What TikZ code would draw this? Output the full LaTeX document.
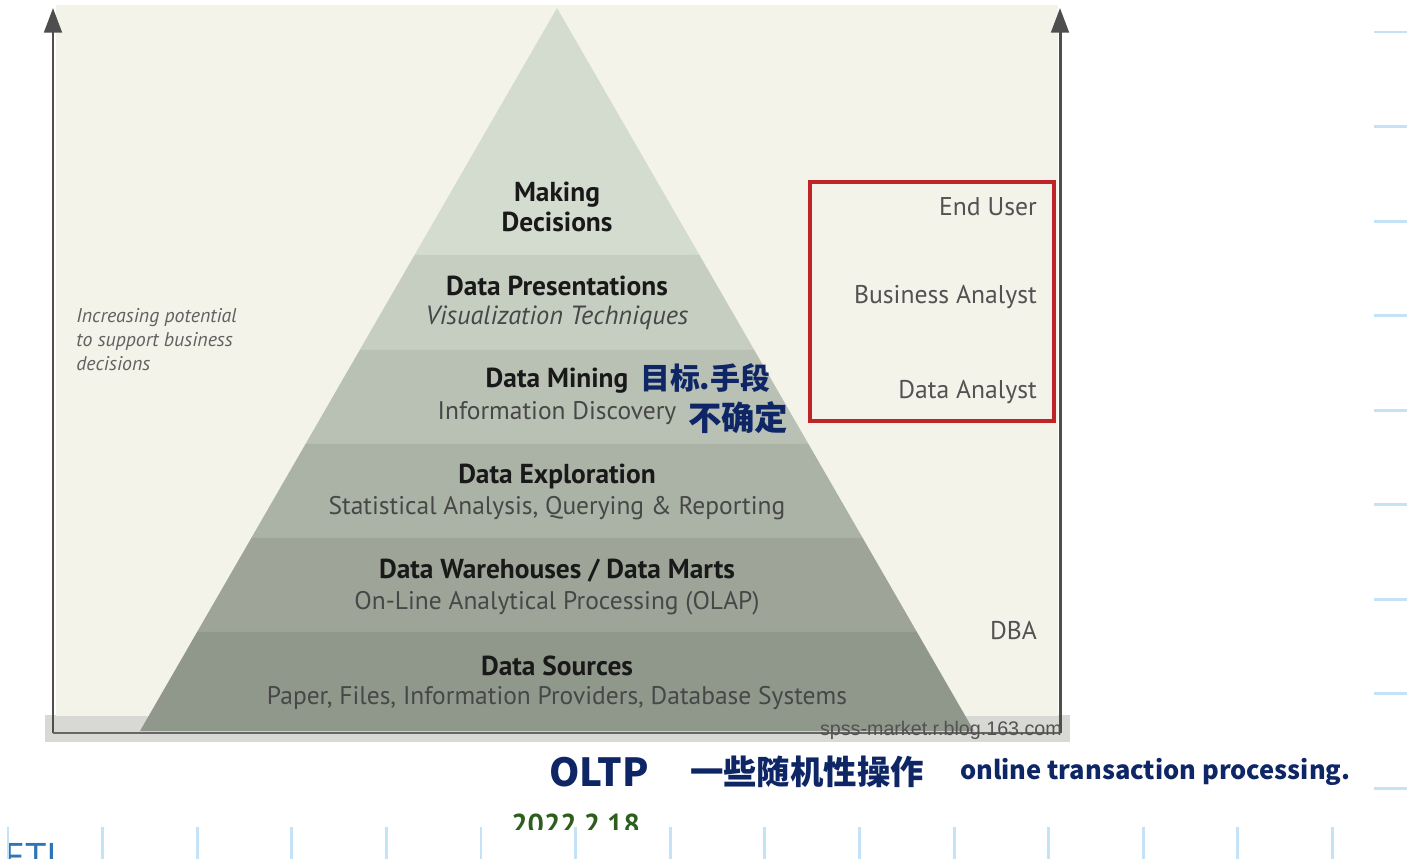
\documentclass[tikz,border=0pt]{standalone}
\usepackage{fontspec}
\setmainfont{PT Sans}
\newfontfamily\cjk{Noto Sans CJK SC}
\newfontfamily\webfont{Liberation Sans}
\usetikzlibrary{arrows.meta,positioning,calc}
\definecolor{paperbg}{RGB}{243,243,234}
\definecolor{bandgray}{RGB}{216,216,212}
\definecolor{axisgray}{RGB}{78,78,78}
\definecolor{pyrtop}{RGB}{212,219,207}
\definecolor{pyrbot}{RGB}{144,152,139}
\definecolor{boxred}{RGB}{192,36,40}
\definecolor{inkblue}{RGB}{14,38,102}
\definecolor{tickblue}{RGB}{197,227,246}
\definecolor{dategreen}{RGB}{46,94,30}
\definecolor{etlblue}{RGB}{46,117,182}

\begin{document}
\begin{tikzpicture}[x=0.02cm, y=-0.02cm,
    title/.style = {font=\fontsize{15.6}{17}\selectfont\bfseries, text=black!90, align=center},
    sub/.style   = {font=\fontsize{14.5}{17}\selectfont, text=black!72},
    role/.style  = {font=\fontsize{14.6}{17}\selectfont, text=black!68, anchor=east},
    ink/.style   = {font=\cjk\bfseries, text=inkblue, anchor=west},
    axis/.style  = {draw=axisgray, line width=1.7pt, -{Triangle[length=14pt,width=10pt]}},
    frame/.style = {draw=boxred, line width=2.3pt},
    tick/.style  = {draw=tickblue, line width=1.7pt}
  ]
    \clip (0,0) rectangle (1407,859);
    \fill[white] (0,0) rectangle (1407,859);

    % picture background
    \fill[bandgray] (45,715) rectangle (1070,742);
    \fill[paperbg]  (56,5) rectangle (1058,716);

    % pyramid
    \coordinate (apex) at (557,8);
    \coordinate (bl)   at (140,731);
    \coordinate (br)   at (974,731);
    \foreach \ta/\tb/\sh in {0/0.3416/0, 0.3416/0.473/20, 0.473/0.603/40,
                             0.603/0.733/60, 0.733/0.863/80, 0.863/1/100}
      \fill[pyrbot!\sh!pyrtop] ($(apex)!\ta!(bl)$) -- ($(apex)!\tb!(bl)$)
                            -- ($(apex)!\tb!(br)$) -- ($(apex)!\ta!(br)$) -- cycle;

    % axes
    \coordinate (origin)  at (53,733);
    \coordinate (ltop)    at (53,8);
    \coordinate (rorigin) at (1060,733);
    \coordinate (rtop)    at (1060,8);
    \draw[axis] (origin) -- (ltop);
    \draw[axis] (rorigin) -- (rtop);
    \draw[draw=black!60, line width=1.6pt] (origin) -- (rorigin);

    % layers
    \node[title] (decide) at (557,207) {Making\\Decisions};
    \node[title] (pres)   at (557,286) {Data Presentations};
    \node[sub, font=\fontsize{15}{17}\selectfont\itshape] (vis) at (557,318) {Visualization Techniques};
    \node[title] (mining) at (557,381) {Data Mining};
    \node[sub]   (disc)   at (557,413) {Information Discovery};
    \node[title] (explor) at (557,476) {Data Exploration};
    \node[sub]   (stat)   at (557,508) {Statistical Analysis, Querying \& Reporting};
    \node[title] (dw)     at (557,571) {Data Warehouses / Data Marts};
    \node[sub]   (olap)   at (557,603) {On-Line Analytical Processing (OLAP)};
    \node[title] (src)    at (557,666) {Data Sources};
    \node[sub]   (paper)  at (557,698) {Paper, Files, Information Providers, Database Systems};

    % left note
    \node[anchor=north west, align=left, inner sep=0pt, text=black!62,
          font=\fontsize{11.3}{13.6}\selectfont\itshape] (potential) at (76,308)
          {Increasing potential\\to support business\\decisions};

    % roles
    \draw[frame] (810,182) rectangle (1054,421);
    \node[role] (enduser)  at (1043,207) {End User};
    \node[role] (business) at (1043,297) {Business Analyst};
    \node[role] (analyst)  at (1043,392) {Data Analyst};
    \node[role] (dba)      at (1043,630) {DBA};

    \node[anchor=east, text=black!68, font=\webfont\fontsize{11.2}{12}\selectfont]
          (web) at (1068,730) {spss-market.r.blog.163.com};

    % handwritten notes
    \node[ink, font=\cjk\bfseries\fontsize{17}{20}\selectfont] (goal)   at (634,378) {目标.手段};
    \node[ink, font=\cjk\bfseries\fontsize{19}{22}\selectfont] (unsure) at (682,418) {不确定};
    \node[ink, font=\cjk\bfseries\fontsize{22}{24}\selectfont] (oltp)   at (543,772) {OLTP};
    \node[ink, font=\cjk\bfseries\fontsize{19}{22}\selectfont] (random) at (684,772) {一些随机性操作};
    \node[ink, font=\cjk\bfseries\fontsize{14.5}{18}\selectfont] (online) at (954,772) {online transaction processing.};

    % slide footer
    \begin{scope}
      \clip (0,0) rectangle (1407,829);
      \node[anchor=base west, inner sep=0pt, text=dategreen,
            font=\fontsize{16.4}{20}\selectfont\bfseries] (date) at (511,834) {2022.2.18};
    \end{scope}
    \node[anchor=base west, inner sep=0pt, text=etlblue,
          font=\fontsize{22}{24}\selectfont] (etl) at (4,870) {ETL};

    \foreach \i in {0,...,14}
      \draw[tick] ({8+94.6*\i},827) -- ++(0,32);
    \foreach \i in {0,...,8}
      \draw[tick] (1374,{32+94.55*\i}) -- ++(33,0);
  \end{tikzpicture}
\end{document}
